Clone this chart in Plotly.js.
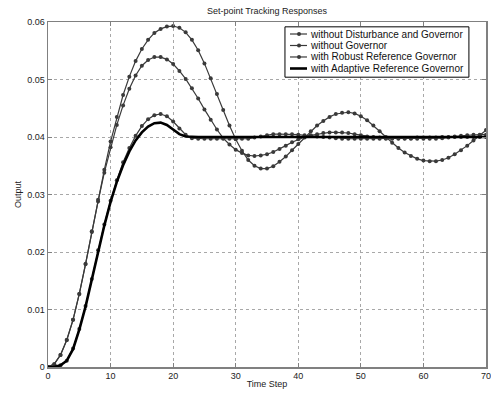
<!DOCTYPE html>
<html>
<head>
<meta charset="utf-8">
<script src="https://cdn.plot.ly/plotly-3.0.1.min.js"></script>
<style>html,body{margin:0;padding:0;background:#fff;}#chart{width:491px;height:396px;}</style>
</head>
<body>
<div id="chart"></div>
<script>
const timeStep = [0,1,2,3,4,5,6,7,8,9,10,11,12,13,14,15,16,17,18,19,20,21,22,23,24,25,26,27,28,29,30,31,32,33,34,35,36,37,38,39,40,41,42,43,44,45,46,47,48,49,50,51,52,53,54,55,56,57,58,59,60,61,62,63,64,65,66,67,68,69,70];

const seriesNames = ["without Disturbance and Governor","without Governor","with Robust Reference Governor","with Adaptive Reference Governor"];

const noDistNoGov = [0,0.0005,0.0021,0.0047,0.0082,0.0127,0.0179,0.0235,0.0288,0.0338,
0.0382,0.0421,0.0455,0.0484,0.0507,0.0524,0.0534,0.0539,0.0539,0.0535,
0.0527,0.0515,0.0501,0.0485,0.0467,0.0448,0.0430,0.0413,0.0398,0.0387,
0.0378,0.0372,0.0368,0.0367,0.0368,0.0370,0.0374,0.0379,0.0385,0.0391,
0.0396,0.0400,0.0403,0.0405,0.0407,0.0408,0.0408,0.0408,0.0407,0.0405,
0.0403,0.0401,0.0400,0.0399,0.0398,0.0398,0.0398,0.0398,0.0398,0.0399,
0.0399,0.0399,0.0399,0.0400,0.0400,0.0400,0.0400,0.0400,0.0400,0.0400,0.0400];

const noGov = [0,0.0005,0.0021,0.0047,0.0082,0.0127,0.0179,0.0236,0.0291,0.0343,
0.0392,0.0435,0.0473,0.0505,0.0532,0.0553,0.0569,0.0581,0.0588,0.0592,
0.0593,0.0590,0.0582,0.0569,0.0551,0.0528,0.0502,0.0475,0.0447,0.0420,
0.0396,0.0376,0.0360,0.0350,0.0345,0.0345,0.0349,0.0357,0.0366,0.0377,
0.0388,0.0399,0.0410,0.0420,0.0428,0.0435,0.0440,0.0442,0.0443,0.0441,
0.0436,0.0429,0.0420,0.0410,0.0400,0.0390,0.0381,0.0373,0.0367,0.0362,
0.0359,0.0358,0.0358,0.0360,0.0364,0.0370,0.0377,0.0385,0.0394,0.0403,0.0412];

const robustRG = [0,0,0.0003,0.0011,0.0032,0.0066,0.0106,0.0153,0.0203,0.0248,
0.0289,0.0325,0.0356,0.0381,0.0402,0.0419,0.0431,0.0438,0.0440,0.0436,
0.0427,0.0415,0.0404,0.0398,0.0397,0.0397,0.0397,0.0397,0.0397,0.0397,
0.0397,0.0397,0.0397,0.0399,0.0401,0.0403,0.0405,0.0405,0.0405,0.0405,
0.0404,0.0403,0.0402,0.0401,0.0400,0.0399,0.0398,0.0397,0.0397,0.0397,
0.0397,0.0397,0.0397,0.0397,0.0397,0.0397,0.0397,0.0397,0.0397,0.0397,
0.0397,0.0397,0.0397,0.0398,0.0399,0.0401,0.0402,0.0403,0.0404,0.0404,0.0404];

const adaptiveRG = [0,0,0.0003,0.0011,0.0031,0.0065,0.0105,0.0152,0.0201,0.0246,
0.0287,0.0322,0.0351,0.0375,0.0394,0.0408,0.0418,0.0424,0.0425,0.0421,
0.0413,0.0405,0.0401,0.0400,0.0400,0.0400,0.0400,0.0400,0.0400,0.0400,
0.0400,0.0400,0.0400,0.0400,0.0400,0.0400,0.0400,0.0400,0.0400,0.0400,
0.0400,0.0400,0.0400,0.0400,0.0400,0.0400,0.0400,0.0400,0.0400,0.0400,
0.0400,0.0400,0.0400,0.0400,0.0400,0.0400,0.0400,0.0400,0.0400,0.0400,
0.0400,0.0400,0.0400,0.0400,0.0400,0.0400,0.0400,0.0400,0.0400,0.0400,0.0400];

const xTicks = [0,10,20,30,40,50,60,70];
const yTicks = [0,0.01,0.02,0.03,0.04,0.05,0.06];
const yTickText = ["0","0.01","0.02","0.03","0.04","0.05","0.06"];

const FONT = "Liberation Sans, Arial, Helvetica, sans-serif";
const THIN = "#3a3a3a";

const markerLine = (name, ys) => ({
  x: timeStep, y: ys, name: name, type: "scatter", mode: "lines+markers",
  line: {color: THIN, width: 1.2},
  marker: {color: THIN, size: 4, symbol: "circle"}
});

const traces = [
  markerLine(seriesNames[0], noDistNoGov),
  markerLine(seriesNames[1], noGov),
  markerLine(seriesNames[2], robustRG),
  {x: timeStep, y: adaptiveRG, name: seriesNames[3], type: "scatter", mode: "lines",
   line: {color: "#000000", width: 2.6}}
];

// Compact MATLAB-style legend box (paper coordinates)
const legendBox = {x0: 0.541, x1: 0.961, y0: 0.840, y1: 0.986};
const legendRowY = [0.9652, 0.9319, 0.8986, 0.8652];
const sampleX = [0.5525, 0.5913];
const sampleMid = 0.5731;
const textX = 0.5947;

const shapes = [{type: "rect", xref: "paper", yref: "paper",
  x0: legendBox.x0, x1: legendBox.x1, y0: legendBox.y0, y1: legendBox.y1,
  line: {color: "#000", width: 1}, fillcolor: "#fff", layer: "above"}];
const annotations = [];
seriesNames.forEach((nm, i) => {
  const thick = i === 3;
  shapes.push({type: "line", xref: "paper", yref: "paper",
    x0: sampleX[0], x1: sampleX[1], y0: legendRowY[i], y1: legendRowY[i],
    line: {color: thick ? "#000" : THIN, width: thick ? 2.6 : 1.2}, layer: "above"});
  if (!thick) {
    shapes.push({type: "circle", xref: "paper", yref: "paper",
      xsizemode: "pixel", ysizemode: "pixel", xanchor: sampleMid, yanchor: legendRowY[i],
      x0: -2, x1: 2, y0: -2, y1: 2, fillcolor: THIN, line: {color: THIN, width: 0}, layer: "above"});
  }
  annotations.push({xref: "paper", yref: "paper", x: textX, y: legendRowY[i],
    xanchor: "left", yanchor: "middle", text: nm, showarrow: false,
    font: {family: FONT, size: 10, color: "#111"}});
});

const axisBase = {
  showline: true, mirror: "ticks", linecolor: "#808080", linewidth: 1.5,
  ticks: "inside", ticklen: 4, tickcolor: "#808080", tickwidth: 1,
  showgrid: true, gridcolor: "#a8a8a8", griddash: "dot", gridwidth: 1,
  zeroline: false, tickfont: {family: FONT, size: 9, color: "#222"},
  ticklabeloverflow: "allow"
};

const layout = {
  width: 491, height: 396,
  margin: {l: 48, r: 5, t: 22, b: 29},
  paper_bgcolor: "#fff", plot_bgcolor: "#fff",
  font: {family: FONT, size: 9, color: "#222"},
  title: {text: "Set-point Tracking Responses", font: {family: FONT, size: 9, color: "#222"},
          x: 0.5, xref: "paper", y: 1, yref: "paper", yanchor: "bottom", pad: {b: 8}},
  xaxis: Object.assign({}, axisBase, {
    range: [0, 70], tickvals: xTicks, ticktext: xTicks.map(String),
    title: {text: "Time Step", font: {family: FONT, size: 9, color: "#222"}, standoff: 0}
  }),
  yaxis: Object.assign({}, axisBase, {
    range: [0, 0.06], tickvals: yTicks, ticktext: yTickText,
    title: {text: "Output", font: {family: FONT, size: 9, color: "#222"}, standoff: 4}
  }),
  showlegend: false,
  shapes: shapes,
  annotations: annotations
};

Plotly.newPlot("chart", traces, layout, {displayModeBar: false, staticPlot: true});
</script>
</body>
</html>
